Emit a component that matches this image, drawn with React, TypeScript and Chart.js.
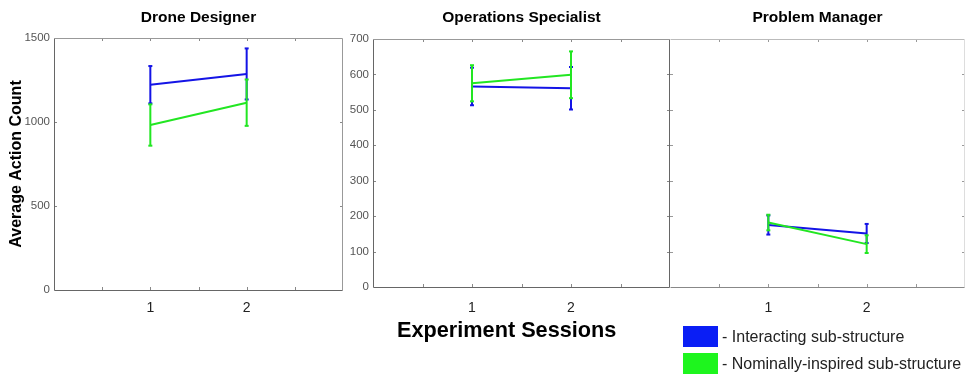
import React, { useEffect, useRef } from 'react';
import { Chart, registerables } from 'chart.js';

Chart.register(...registerables);

// ---- data ----
const sessions = [1, 2];
const sessionLabels = ['1', '2'];
const roles = ['Drone Designer', 'Operations Specialist', 'Problem Manager'];
const seriesNames = ['Interacting sub-structure', 'Nominally-inspired sub-structure'];

const droneInteractingMean = [1222, 1286];
const droneInteractingErr = [111, 152];
const droneNominalMean = [982, 1115];
const droneNominalErr = [123, 138];

const opsInteractingMean = [566, 561];
const opsInteractingErr = [53, 60];
const opsNominalMean = [575, 599];
const opsNominalErr = [51, 66];

const pmInteractingMean = [175, 151];
const pmInteractingErr = [27, 27];
const pmNominalMean = [182, 121];
const pmNominalErr = [22, 25];

const droneYMax = 1500;
const droneYStep = 500;
const teamYMax = 700;
const teamYStep = 100;

const BLUE = '#1414e6';
const GREEN = '#22e622';
const FONT = "'Liberation Sans', Arial, Helvetica, sans-serif";

Chart.defaults.font.family = FONT;

const framePlugin = {
  id: 'frame',
  afterDraw(chart: any, _args: any, opts: any) {
    const { ctx, chartArea: a, scales } = chart;
    const xs = scales.x;
    const ys = scales.y;
    ctx.save();
    ctx.lineWidth = 1;
    ctx.strokeStyle = opts.tickColor || '#888';
    const L = 3;
    xs.ticks.forEach((t: any) => {
      if (t.value <= xs.min || t.value >= xs.max) return;
      const px = Math.round(xs.getPixelForValue(t.value)) + 0.5;
      ctx.beginPath();
      ctx.moveTo(px, a.bottom);
      ctx.lineTo(px, a.bottom - L);
      ctx.moveTo(px, a.top);
      ctx.lineTo(px, a.top + L);
      ctx.stroke();
    });
    ys.ticks.forEach((t: any) => {
      if (t.value <= ys.min || t.value >= ys.max) return;
      const py = Math.round(ys.getPixelForValue(t.value)) + 0.5;
      ctx.beginPath();
      ctx.moveTo(a.left, py);
      ctx.lineTo(a.left + L, py);
      ctx.moveTo(a.right, py);
      ctx.lineTo(a.right - L, py);
      ctx.stroke();
    });
    const l = Math.round(a.left) + 0.5;
    const r = Math.round(a.right) - 0.5;
    const t = Math.round(a.top) + 0.5;
    const b = Math.round(a.bottom) + 0.5;
    const seg = (c: string, x1: number, y1: number, x2: number, y2: number) => {
      if (!c) return;
      ctx.strokeStyle = c;
      ctx.beginPath();
      ctx.moveTo(x1, y1);
      ctx.lineTo(x2, y2);
      ctx.stroke();
    };
    seg(opts.top, l, t, r, t);
    seg(opts.right, r, t, r, b);
    seg(opts.bottom, l, b, r, b);
    seg(opts.left, l, t, l, b);
    ctx.restore();
  },
};

function meanData(means: number[]) {
  return sessions.map((s, i) => ({ x: s, y: means[i] }));
}
function errData(means: number[], errs: number[]) {
  const out: any[] = [];
  sessions.forEach((s, i) => {
    out.push({ x: s, y: means[i] - errs[i] });
    out.push({ x: s, y: means[i] + errs[i] });
    out.push({ x: s, y: null });
  });
  return out;
}

function seriesSets(name: string, color: string, means: number[], errs: number[], order: number) {
  return [
    {
      label: name,
      data: meanData(means),
      borderColor: color,
      backgroundColor: color,
      borderWidth: 2,
      pointRadius: 0,
      order,
    },
    {
      label: name + ' error',
      data: errData(means, errs),
      borderColor: color,
      backgroundColor: color,
      borderWidth: 2,
      pointStyle: 'line',
      pointRadius: 2,
      pointBorderWidth: 2,
      pointBorderColor: color,
      spanGaps: false,
      order,
    },
  ];
}

interface PanelCfg {
  title: string;
  interMean: number[];
  interErr: number[];
  nomMean: number[];
  nomErr: number[];
  yMax: number;
  yStep: number;
  showY: boolean;
  yTitle?: string;
  yWidth: number;
  xHeight: number;
  titleBottom: number;
  xPad: number;
  padRight: number;
  frame: any;
}

function makeChart(canvas: HTMLCanvasElement, c: PanelCfg) {
  return new Chart(canvas, {
    type: 'line',
    data: {
      datasets: [
        ...seriesSets(seriesNames[0], BLUE, c.interMean, c.interErr, 1),
        ...seriesSets(seriesNames[1], GREEN, c.nomMean, c.nomErr, 0),
      ] as any,
    },
    options: {
      animation: false,
      responsive: false,
      devicePixelRatio: 1,
      layout: { autoPadding: false, padding: { left: 0, right: c.padRight, top: 0, bottom: 0 } },
      plugins: {
        legend: { display: false },
        tooltip: { enabled: false },
        title: {
          display: true,
          text: c.title,
          fullSize: false,
          color: '#000',
          font: { size: 15.5, weight: 'bold', family: FONT, lineHeight: 1.2 },
          padding: { top: 8, bottom: c.titleBottom - 0.6 },
        },
        frame: c.frame,
      } as any,
      scales: {
        x: {
          type: 'linear',
          min: 0,
          max: 3,
          ticks: {
            stepSize: 0.5,
            autoSkip: false,
            maxRotation: 0,
            padding: c.xPad,
            color: '#222',
            font: { size: 14, family: FONT },
            callback: (v: any) => {
              const i = sessions.indexOf(Number(v));
              return i >= 0 ? sessionLabels[i] : '';
            },
          },
          grid: { display: false, drawTicks: false },
          border: { display: false },
          afterFit: (s: any) => {
            s.height = c.xHeight;
            s.paddingLeft = 0;
            s.paddingRight = 0;
          },
        },
        y: {
          type: 'linear',
          min: 0,
          max: c.yMax,
          ticks: {
            stepSize: c.yStep,
            display: c.showY,
            padding: 4,
            color: '#555',
            font: { size: 11.5, family: FONT },
            callback: (v: any) => String(v),
          },
          grid: { display: false, drawTicks: false },
          border: { display: false },
          title: {
            display: !!c.yTitle,
            text: c.yTitle || '',
            color: '#000',
            font: { size: 16, weight: 'bold', family: FONT },
            padding: { top: 7, bottom: 0 },
          },
          afterFit: (s: any) => {
            s.width = c.yWidth;
          },
        },
      },
    } as any,
    plugins: [framePlugin],
  });
}

export default function App() {
  const c1 = useRef<HTMLCanvasElement>(null);
  const c2 = useRef<HTMLCanvasElement>(null);
  const c3 = useRef<HTMLCanvasElement>(null);

  useEffect(() => {
    const charts: Chart[] = [];
    if (c1.current)
      charts.push(
        makeChart(c1.current, {
          title: roles[0],
          interMean: droneInteractingMean,
          interErr: droneInteractingErr,
          nomMean: droneNominalMean,
          nomErr: droneNominalErr,
          yMax: droneYMax,
          yStep: droneYStep,
          showY: true,
          yTitle: 'Average Action Count',
          yWidth: 54,
          xHeight: 86,
          titleBottom: 12,
          xPad: 10,
          padRight: 3,
          frame: { left: '#666', bottom: '#666', top: '#999', right: '#999', tickColor: '#888' },
        })
      );
    if (c2.current)
      charts.push(
        makeChart(c2.current, {
          title: roles[1],
          interMean: opsInteractingMean,
          interErr: opsInteractingErr,
          nomMean: opsNominalMean,
          nomErr: opsNominalErr,
          yMax: teamYMax,
          yStep: teamYStep,
          showY: true,
          yWidth: 33,
          xHeight: 89,
          titleBottom: 13,
          xPad: 13,
          padRight: 2,
          frame: { left: '#666', bottom: '#666', top: '#999', right: '#666', tickColor: '#888' },
        })
      );
    if (c3.current)
      charts.push(
        makeChart(c3.current, {
          title: roles[2],
          interMean: pmInteractingMean,
          interErr: pmInteractingErr,
          nomMean: pmNominalMean,
          nomErr: pmNominalErr,
          yMax: teamYMax,
          yStep: teamYStep,
          showY: false,
          yWidth: 3,
          xHeight: 89,
          titleBottom: 13,
          xPad: 13,
          padRight: 1,
          frame: { left: '', bottom: '#888', top: '#bbb', right: '#ddd', tickColor: '#999' },
        })
      );
    return () => charts.forEach((ch) => ch.destroy());
  }, []);

  const abs = (l: number, t: number, w: number, h: number): React.CSSProperties => ({
    position: 'absolute',
    left: l,
    top: t,
    width: w,
    height: h,
  });

  return (
    <div
      style={{
        position: 'absolute',
        left: 0,
        top: 0,
        width: 966,
        height: 376,
        overflow: 'hidden',
        background: '#fff',
        fontFamily: FONT,
      }}
    >
      <canvas ref={c1} width={346} height={376} style={abs(0, 0, 346, 376)} />
      <canvas ref={c2} width={332} height={376} style={abs(340, 0, 332, 376)} />
      <canvas ref={c3} width={299} height={376} style={abs(667, 0, 299, 376)} />
      <div
        style={{
          position: 'absolute',
          left: 397,
          top: 317,
          fontSize: 21.7,
          fontWeight: 'bold',
          lineHeight: '26px',
          color: '#000',
          whiteSpace: 'nowrap',
        }}
      >
        Experiment Sessions
      </div>
      <div style={{ ...abs(683, 326, 35, 21), background: '#0a1ef5' }} />
      <div
        style={{
          position: 'absolute',
          left: 722,
          top: 326,
          fontSize: 16,
          lineHeight: '21px',
          color: '#222',
          whiteSpace: 'nowrap',
        }}
      >
        - {seriesNames[0]}
      </div>
      <div style={{ ...abs(683, 353, 35, 21), background: '#1ef51e' }} />
      <div
        style={{
          position: 'absolute',
          left: 722,
          top: 353,
          fontSize: 16,
          lineHeight: '21px',
          color: '#222',
          whiteSpace: 'nowrap',
        }}
      >
        - {seriesNames[1]}
      </div>
    </div>
  );
}
